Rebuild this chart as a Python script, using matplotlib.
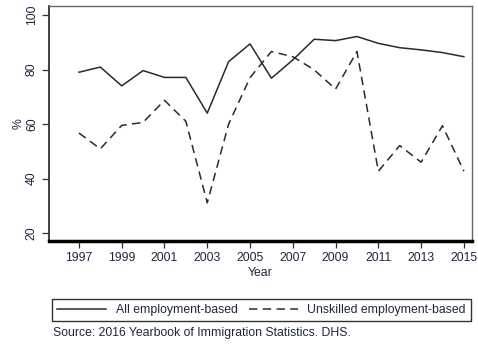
import numpy as np
import matplotlib.pyplot as plt

plt.rcParams['font.family'] = ['Liberation Sans', 'DejaVu Sans']

# Share of visas, by year
years = np.arange(1997, 2016)
all_emp = [79.0, 80.9, 74.0, 79.6, 77.1, 77.1, 64.0, 82.9, 89.4, 76.8,
           83.5, 91.1, 90.6, 92.1, 89.6, 88.0, 87.2, 86.2, 84.7]
unskilled_emp = [56.7, 50.9, 59.5, 60.6, 68.7, 61.0, 31.1, 60.0, 77.0, 86.6,
                 84.7, 79.9, 72.8, 86.6, 42.7, 52.1, 46.0, 59.4, 42.7]
xticks = np.arange(1997, 2016, 2)
yticks = [20, 40, 60, 80, 100]

txt = '#1e2640'

fig = plt.figure(figsize=(4.78, 3.44), dpi=100)
ax = fig.add_axes([0.1025, 0.2994, 0.8845, 0.6832])

l1, = ax.plot(years, all_emp, color='#2a2a2a', lw=1.1)
l2, = ax.plot(years, unskilled_emp, color='#2a2a2a', lw=1.1, dashes=(5.5, 3.5))

ax.set_xlim(1995.6, 2015.37)
ax.set_ylim(17.1, 103.3)
ax.set_xticks(xticks)
ax.set_yticks(yticks)
ax.set_yticklabels([str(v) for v in yticks], rotation=90, va='center')
ax.tick_params(axis='both', direction='out', length=5, width=0.9,
               labelsize=8.8, labelcolor=txt, color='#333333', pad=3)

ax.spines['left'].set_linewidth(1.3)
ax.spines['left'].set_color('#333333')
ax.spines['bottom'].set_linewidth(2.5)
ax.spines['bottom'].set_color('black')
for s in ['top', 'right']:
    ax.spines[s].set_linewidth(1.0)
    ax.spines[s].set_color('#666666')

ax.set_xlabel('Year', fontsize=8.8, color=txt, labelpad=2)
ax.set_ylabel('%', fontsize=8.8, color=txt, labelpad=1)

leg = fig.legend([l1, l2], ['All employment-based', 'Unskilled employment-based'],
                 loc='center', bbox_to_anchor=(0.547, 0.0988),
                 ncol=2, fontsize=8.8, frameon=True, fancybox=False,
                 handlelength=4.0, handletextpad=0.8, columnspacing=0.9,
                 borderpad=0.4, labelcolor=txt)
leg.get_frame().set_edgecolor('black')
leg.get_frame().set_linewidth(1.0)

fig.text(0.111, 0.032, 'Source: 2016 Yearbook of Immigration Statistics. DHS.',
         fontsize=8.8, color=txt, va='center', ha='left')

fig.savefig('out.png', dpi=100)
